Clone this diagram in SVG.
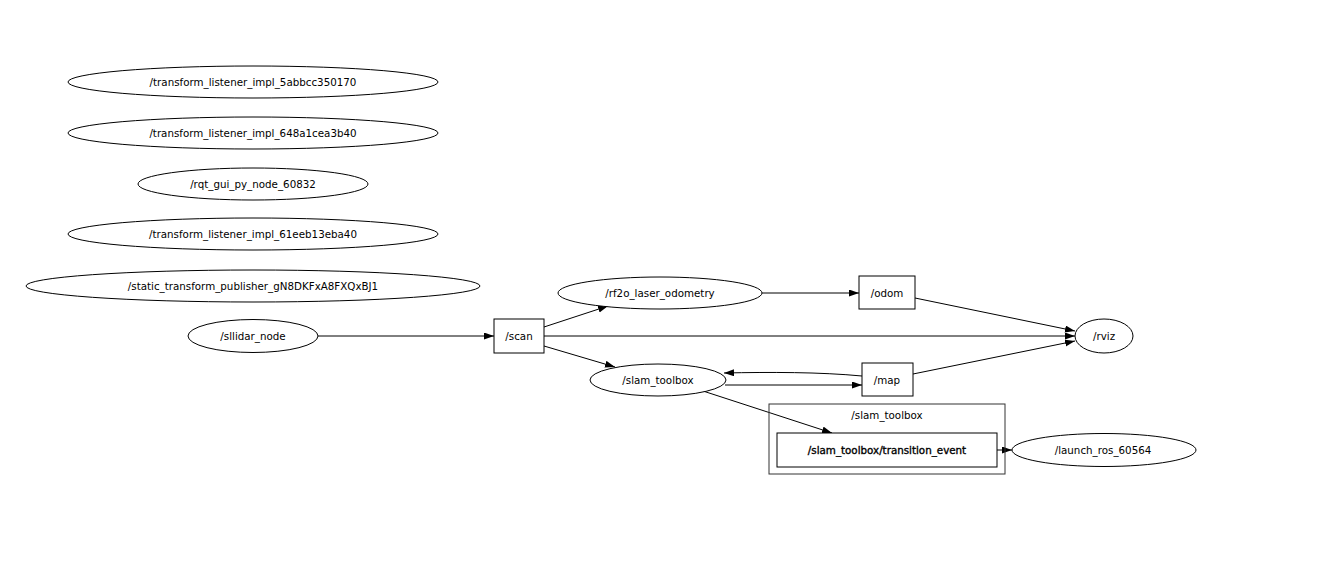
<svg xmlns="http://www.w3.org/2000/svg" width="1321" height="578" viewBox="0 0 1321 578">
<defs>
<style>
.n{fill:#fff;stroke:#000;stroke-width:1}
.t{font-family:"DejaVu Sans",sans-serif;font-size:10.3px;fill:#000;text-anchor:middle}
.e{fill:none;stroke:#000;stroke-width:1}
</style>
<marker id="ah" markerUnits="userSpaceOnUse" markerWidth="11" markerHeight="8" refX="10" refY="3.5" orient="auto">
<path d="M0,0 L10,3.5 L0,7 z" fill="#000"/>
</marker>
</defs>
<rect width="1321" height="578" fill="#fff"/>
<g id="connectors">
<path class="e" d="M318,336 L494,336" marker-end="url(#ah)"/>
<path class="e" d="M544,327 L608,306" marker-end="url(#ah)"/>
<path class="e" d="M544,336 L1075,336" marker-end="url(#ah)"/>
<path class="e" d="M544,346 L615,367" marker-end="url(#ah)"/>
<path class="e" d="M762,293 L859,293" marker-end="url(#ah)"/>
<path class="e" d="M915,298 L1075,331" marker-end="url(#ah)"/>
<path class="e" d="M913,374 L1075,341" marker-end="url(#ah)"/>
<path class="e" d="M862,376 C820,372 770,372 724,373" marker-end="url(#ah)"/>
<path class="e" d="M725,385 L862,385" marker-end="url(#ah)"/>
<path class="e" d="M703,391 L832,433" marker-end="url(#ah)"/>
<path class="e" d="M997,450 L1012,450" marker-end="url(#ah)"/>
</g>
<g id="n_tl1"><ellipse class="n" cx="253" cy="82" rx="185" ry="16"/><text class="t" x="253" y="86">/transform_listener_impl_5abbcc350170</text></g>
<g id="n_tl2"><ellipse class="n" cx="253" cy="133" rx="185" ry="16"/><text class="t" x="253" y="137">/transform_listener_impl_648a1cea3b40</text></g>
<g id="n_rqt"><ellipse class="n" cx="253" cy="184" rx="115" ry="16"/><text class="t" x="253" y="188">/rqt_gui_py_node_60832</text></g>
<g id="n_tl3"><ellipse class="n" cx="253" cy="234" rx="185" ry="16"/><text class="t" x="253" y="238">/transform_listener_impl_61eeb13eba40</text></g>
<g id="n_stp"><ellipse class="n" cx="253" cy="286" rx="227" ry="16"/><text class="t" x="253" y="290">/static_transform_publisher_gN8DKFxA8FXQxBJ1</text></g>
<g id="n_sllidar"><ellipse class="n" cx="253" cy="336" rx="65" ry="16.5"/><text class="t" x="253" y="340">/sllidar_node</text></g>
<g id="n_scan"><rect class="n" x="494" y="319" width="50" height="34"/><text class="t" x="519" y="340">/scan</text></g>
<g id="n_rf2o"><ellipse class="n" cx="660" cy="293" rx="102" ry="16"/><text class="t" x="660" y="297">/rf2o_laser_odometry</text></g>
<g id="n_odom"><rect class="n" x="859" y="276" width="56" height="33"/><text class="t" x="887" y="297">/odom</text></g>
<g id="n_slam"><ellipse class="n" cx="658" cy="380" rx="68" ry="16"/><text class="t" x="658" y="384">/slam_toolbox</text></g>
<g id="n_map"><rect class="n" x="862" y="363" width="51" height="33"/><text class="t" x="887" y="384">/map</text></g>
<g id="n_rviz"><ellipse class="n" cx="1104" cy="336" rx="29" ry="17"/><text class="t" x="1104" y="340">/rviz</text></g>
<g id="cluster_slam_toolbox"><rect x="769" y="404" width="236" height="70" fill="none" stroke="#333" stroke-width="1"/><text class="t" x="887" y="419">/slam_toolbox</text></g>
<g id="n_transition"><rect class="n" x="777" y="433" width="220" height="34" stroke-width="1.4"/><text class="t" x="887" y="454" stroke="#000" stroke-width="0.35">/slam_toolbox/transition_event</text></g>
<g id="n_launch"><ellipse class="n" cx="1104" cy="450" rx="92" ry="16.5"/><text class="t" x="1103" y="454">/launch_ros_60564</text></g>
</svg>
